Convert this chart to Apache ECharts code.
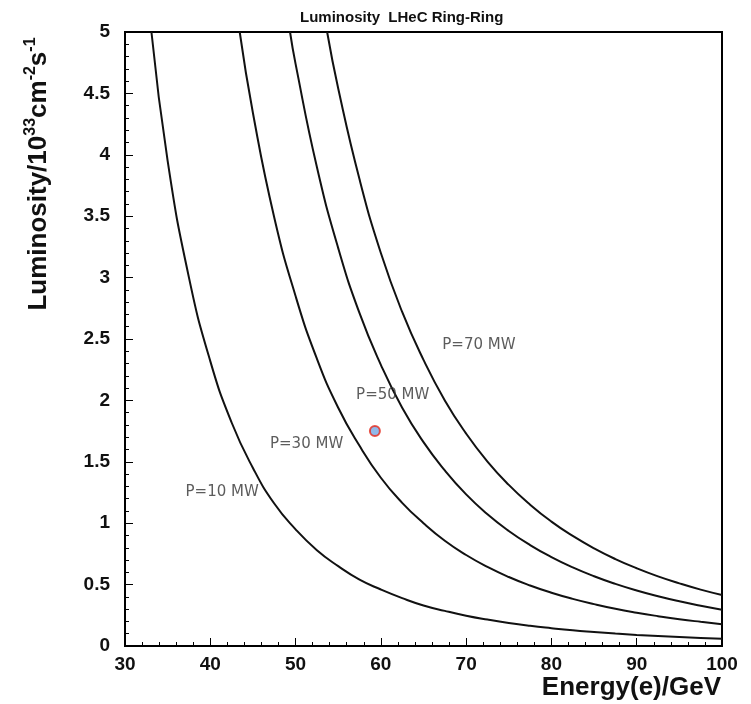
<!DOCTYPE html>
<html>
<head>
<meta charset="utf-8">
<script src="https://cdn.jsdelivr.net/npm/echarts@6/dist/echarts.min.js"></script>
<style>
  html, body { margin: 0; padding: 0; background: #fff; }
  #chart { width: 751px; height: 704px; }
</style>
</head>
<body>
<div id="chart"></div>
<script>
// curve points: [energy GeV, luminosity 1e33]
const curveP10 = [[33.1, 5.0], [35, 3.95], [37.5, 3.0], [40, 2.32], [42.5, 1.82], [45, 1.45], [47.5, 1.16], [50, 0.95], [52.5, 0.78], [55, 0.65], [57.5, 0.54], [60, 0.46], [62.5, 0.39], [65, 0.33], [67.5, 0.286], [70, 0.247], [72.5, 0.215], [75, 0.187], [77.5, 0.164], [80, 0.145], [82.5, 0.128], [85, 0.114], [87.5, 0.101], [90, 0.09], [92.5, 0.081], [95, 0.073], [97.5, 0.066], [100, 0.059]]
const curveP30 = [[43.45, 5.0], [45, 4.34], [47.5, 3.49], [50, 2.85], [52.5, 2.34], [55, 1.94], [57.5, 1.63], [60, 1.37], [62.5, 1.166], [65, 1.0], [67.5, 0.857], [70, 0.741], [72.5, 0.644], [75, 0.562], [77.5, 0.493], [80, 0.434], [82.5, 0.384], [85, 0.341], [87.5, 0.303], [90, 0.271], [92.5, 0.243], [95, 0.218], [97.5, 0.197], [100, 0.178]]
const curveP50 = [[49.35, 5.0], [50, 4.74], [52.5, 3.9], [55, 3.24], [57.5, 2.71], [60, 2.29], [62.5, 1.94], [65, 1.66], [67.5, 1.43], [70, 1.235], [72.5, 1.073], [75, 0.937], [77.5, 0.822], [80, 0.724], [82.5, 0.64], [85, 0.568], [87.5, 0.506], [90, 0.452], [92.5, 0.405], [95, 0.364], [97.5, 0.328], [100, 0.296]]
const curveP70 = [[53.7, 5.0], [55, 4.54], [57.5, 3.8], [60, 3.2], [62.5, 2.72], [65, 2.33], [67.5, 2.0], [70, 1.73], [72.5, 1.502], [75, 1.312], [77.5, 1.151], [80, 1.013], [82.5, 0.896], [85, 0.795], [87.5, 0.708], [90, 0.633], [92.5, 0.567], [95, 0.51], [97.5, 0.459], [100, 0.415]]

const designPoint = [[59.3, 1.75]]

const labelTexts = ['P=10 MW', 'P=30 MW', 'P=50 MW', 'P=70 MW']
const labelE = [37.1, 47.0, 57.1, 67.2]
const labelL = [1.25, 1.64, 2.04, 2.45]

const chart = echarts.init(document.getElementById('chart'))

const lineSeries = (data) => ({
  type: 'line',
  data: data,
  smooth: true,
  symbol: 'none',
  lineStyle: { color: '#111', width: 2 },
  z: 3
})

const option = {
  animation: false,
  backgroundColor: '#fff',
  title: {
    text: 'Luminosity  LHeC Ring-Ring',
    left: 295,
    top: 5,
    textStyle: { fontFamily: 'Liberation Sans', fontSize: 15, fontWeight: 'bold', color: '#111' }
  },
  grid: {
    left: 125, right: 29, top: 32, bottom: 58,
    show: true, borderColor: '#000', borderWidth: 2
  },
  xAxis: {
    type: 'value',
    min: 30, max: 100, interval: 10,
    axisLine: { show: false },
    axisTick: { inside: true, length: 8, lineStyle: { color: '#000', width: 1 } },
    minorTick: { show: true, splitNumber: 5, length: 4, lineStyle: { color: '#000', width: 1 } },
    splitLine: { show: false },
    axisLabel: { margin: 9, fontFamily: 'Liberation Sans', fontSize: 19, fontWeight: 'bold', color: '#111' }
  },
  yAxis: {
    type: 'value',
    min: 0, max: 5, interval: 0.5,
    axisLine: { show: false },
    axisTick: { inside: true, length: 8, lineStyle: { color: '#000', width: 1 } },
    minorTick: { show: true, splitNumber: 5, length: 4, lineStyle: { color: '#000', width: 1 } },
    splitLine: { show: false },
    axisLabel: { margin: 15, fontFamily: 'Liberation Sans', fontSize: 19, fontWeight: 'bold', color: '#111' }
  },
  graphic: [
    {
      type: 'text',
      x: 39, y: 174,
      rotation: Math.PI / 2,
      style: {
        text: 'Luminosity/10{sup|33}cm{sup|-2}s{sup|-1}',
        fontFamily: 'Liberation Sans',
        fontSize: 26,
        fontWeight: 'bold',
        fill: '#111',
        align: 'center',
        verticalAlign: 'middle',
        lineHeight: 32,
        rich: {
          sup: { fontFamily: 'Liberation Sans', fontSize: 16, fontWeight: 'bold', fill: '#111', lineHeight: 16, verticalAlign: 'top' }
        }
      }
    },
    {
      type: 'text',
      x: 721, y: 688,
      style: {
        text: 'Energy(e)/GeV',
        fontFamily: 'Liberation Sans',
        fontSize: 26,
        fontWeight: 'bold',
        fill: '#111',
        align: 'right',
        verticalAlign: 'middle'
      }
    }
  ],
  series: [
    lineSeries(curveP10),
    lineSeries(curveP30),
    lineSeries(curveP50),
    lineSeries(curveP70),
    {
      type: 'scatter',
      data: designPoint,
      symbolSize: 10,
      itemStyle: { color: '#74a6e4', borderColor: '#e5281a', borderWidth: 2 },
      z: 5
    },
    {
      type: 'scatter',
      symbolSize: 0,
      data: labelTexts.map((t, i) => ({ name: t, value: [labelE[i], labelL[i]] })),
      label: {
        show: true,
        position: 'right',
        distance: 0,
        formatter: (p) => p.name,
        fontFamily: 'DejaVu Sans',
        fontSize: 15,
        color: '#333'
      },
      z: 4
    }
  ]
}

chart.setOption(option)
</script>
</body>
</html>
